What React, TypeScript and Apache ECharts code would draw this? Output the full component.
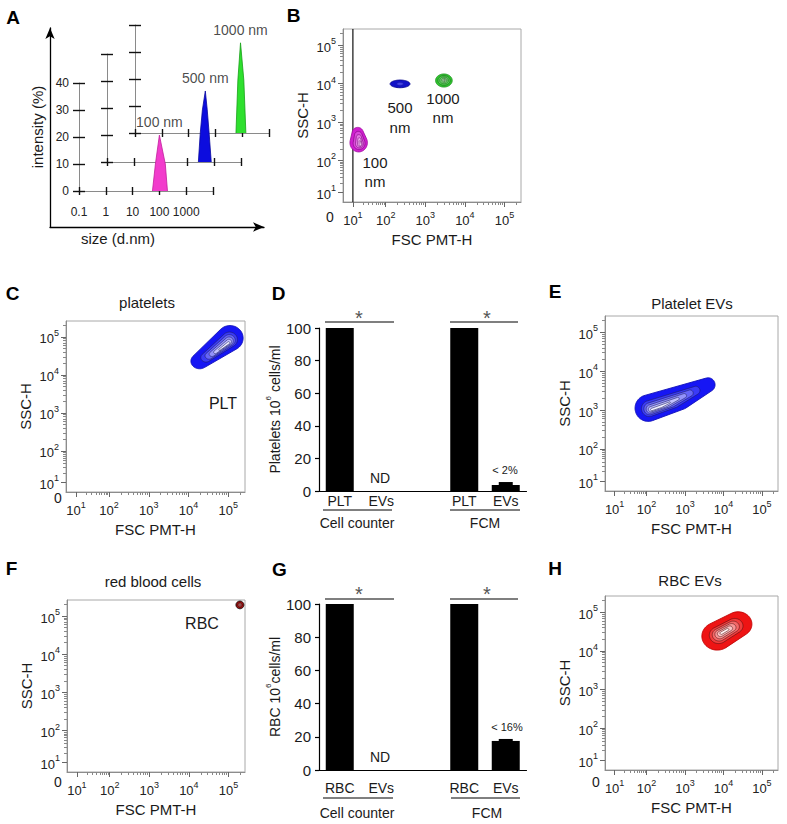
import React, { useEffect, useRef } from "react";
import * as echarts from "echarts";

const FONT = '"Liberation Sans", Arial, Helvetica, sans-serif';

// ---------------- Panel A : DLS size distributions ----------------
const A_INTENSITY_MAX = 40;
const A_SIZE_MIN = 0.1;
const A_SIZE_MAX = 10000;
const A_PEAK_100NM = [[55, 0], [71, 10], [100, 20.7], [166, 10], [200, 0]];
const A_PEAK_500NM = [[257, 0], [302, 10.7], [363, 19.3], [466, 26.3], [550, 19.3], [646, 10.7], [776, 0]];
const A_PEAK_1000NM = [[585, 0], [690, 19.6], [865, 33.4], [1150, 19.6], [1370, 0]];
const A_PEAK_NAMES = ["100 nm", "500 nm", "1000 nm"];

// ---------------- Flow cytometry (FSC / SSC, biexponential) ----------------
const FLOW_EXPONENTS = [1, 2, 3, 4, 5];
const FLOW_MAX = 262143;
// blob outlines: [FSC, SSC, radius FSC (decades), radius SSC (decades)]
const B_BEAD_100 = [[15, 290, 0.22, 0.24], [14, 525, 0.14, 0.14]];
const B_BEAD_100_CORE = [17.7, 240];
const B_BEAD_500 = [[230, 9800, 0.25, 0.1]];
const B_BEAD_500_CORE = [230, 9800];
const B_BEAD_1000 = [[2950, 12000, 0.21, 0.17]];
const B_BEAD_1000_CORE = [3100, 12500];
const B_GATE_FSC = 10;
const C_PLATELETS = [[1.9e4, 2.3e4, 0.22, 0.2], [1.1e5, 9.3e4, 0.33, 0.33]];
const C_PLATELETS_CORE = [9.8e4, 6.2e4];
const E_PLT_EVS = [[110, 1120, 0.34, 0.34], [740, 2040, 0.3, 0.3], [4000, 4470, 0.18, 0.18]];
const E_PLT_EVS_CORE = [150, 1000];
const F_RBC = [[1.95e5, 1.95e5, 0.1, 0.1]];
const F_RBC_CORE = [1.95e5, 1.95e5];
const H_RBC_EVS = [[6900, 2.4e4, 0.4, 0.36], [2.4e4, 4.9e4, 0.36, 0.32]];
const H_RBC_EVS_CORE = [9800, 3.1e4];

// contour level scales (outer -> inner)
const LEVELS_MAIN = [1, 0.6, 0.45, 0.32, 0.2, 0.09];
const LEVELS_BEAD_100 = [1, 0.68, 0.45, 0.26, 0.12];
const LEVELS_BEAD_500 = [1, 0.35];
const LEVELS_BEAD_1000 = [1, 0.74, 0.52, 0.34, 0.2, 0.09];
const LEVELS_RBC = [1, 0.55, 0.25];

// ---------------- Bar panels D and G ----------------
const D_CATEGORIES = ["PLT", "EVs", "", "PLT", "EVs"];
const D_VALUES = [100, null, null, 100, 3.7];
const D_ERRORS = [null, null, null, null, 1.8];
const G_CATEGORIES = ["RBC", "EVs", "", "RBC", "EVs"];
const G_VALUES = [100, null, null, 100, 17.5];
const G_ERRORS = [null, null, null, null, 1.2];
const BAR_MAX = 100;
const BAR_INTERVAL = 20;

// ---------------- helpers ----------------
function T(v: number): number {
  if (v >= 100) return Math.log10(v);
  if (v >= 10) return 2 - (2 - Math.log10(v)) * 0.83;
  return 0.92 + (0.25 * v) / 10;
}
const U_MIN = T(0);
const U_MAX = T(FLOW_MAX);
const MAJOR_U = FLOW_EXPONENTS.map((e) => T(Math.pow(10, e)));
const MINOR_U: number[] = [];
FLOW_EXPONENTS.forEach((e) => {
  for (let k = 2; k <= 9; k++) {
    const v = k * Math.pow(10, e);
    if (v <= FLOW_MAX) MINOR_U.push(T(v));
  }
});

function hex(c: string) {
  const h = c.replace("#", "");
  return [0, 2, 4].map((i) => parseInt(h.substr(i, 2), 16));
}
function mix(a: string, b: string, t: number) {
  const pa = hex(a), pb = hex(b);
  return "rgb(" + pa.map((c, i) => Math.round(c + (pb[i] - c) * t)).join(",") + ")";
}

const SUP_RICH = {
  b: { fontSize: 13, fontFamily: FONT, color: "#222", lineHeight: 17, verticalAlign: "bottom" },
  s: { fontSize: 9, fontFamily: FONT, color: "#222", lineHeight: 11, verticalAlign: "top" },
};
function supLabel(val: number) {
  const e = FLOW_EXPONENTS.find((x) => Math.abs(T(Math.pow(10, x)) - val) < 1e-6);
  return e ? `{b|10}{s|${e}}` : "";
}

function hullPoints(ellipses: number[][], core: number[], s: number) {
  const cu = T(core[0]), cv = T(core[1]);
  const f = Math.sqrt(s);
  const E = ellipses.map(([x, y, rx, ry]) => [cu + (T(x) - cu) * f, cv + (T(y) - cv) * f, rx * s, ry * s]);
  const pts: number[][] = [];
  const N = 96;
  for (let k = 0; k < N; k++) {
    const th = (2 * Math.PI * k) / N;
    const dx = Math.cos(th), dy = Math.sin(th);
    let best = -Infinity;
    let bp = [cu, cv];
    for (const [u, v, a, b] of E) {
      const n = Math.sqrt(a * a * dx * dx + b * b * dy * dy) || 1e-9;
      const h = u * dx + v * dy + n;
      if (h > best) {
        best = h;
        bp = [u + (a * a * dx) / n, v + (b * b * dy) / n];
      }
    }
    pts.push(bp);
  }
  return pts;
}

export default function App() {
  const ref = useRef<HTMLDivElement>(null);
  useEffect(() => {
    if (!ref.current) return;
    const chart = echarts.init(ref.current, null, { renderer: "svg" });
    const grids: any[] = [];
    const xAxes: any[] = [];
    const yAxes: any[] = [];
    const series: any[] = [];
    const graphics: any[] = [];

    const txt = (x: number, y: number, text: string, size: number, extra: any = {}) => {
      graphics.push({
        type: "text",
        x,
        y,
        silent: true,
        style: {
          text,
          fontSize: size,
          fontFamily: FONT,
          fill: "#1a1a1a",
          align: "center",
          verticalAlign: "middle",
          ...extra,
        },
      });
    };
    const line = (x1: number, y1: number, x2: number, y2: number, w = 1.2, color = "#000") => {
      graphics.push({ type: "line", silent: true, shape: { x1, y1, x2, y2 }, style: { stroke: color, lineWidth: w } });
    };

    // ---------- Panel A ----------
    {
      const g = grids.length;
      grids.push({ left: 50, top: 28, width: 214, height: 199, show: false });
      const arrowAxis = {
        type: "value",
        gridIndex: g,
        min: 0,
        max: 1,
        axisLine: { show: true, onZero: false, symbol: ["none", "arrow"], symbolSize: [7, 11], lineStyle: { color: "#000", width: 1.3 } },
        axisTick: { show: false },
        axisLabel: { show: false },
        splitLine: { show: false },
      };
      xAxes.push({ ...arrowAxis, position: "bottom" });
      yAxes.push({ ...arrowAxis, position: "left" });

      const layout = [
        { left: 79, bottom: 191 },
        { left: 107, bottom: 162 },
        { left: 135, bottom: 133 },
      ];
      const peaks = [A_PEAK_100NM, A_PEAK_500NM, A_PEAK_1000NM];
      const colors = ["#f23ccc", "#0c0cde", "#2ee02e"];
      const edges = ["#c0209c", "#0808a0", "#18a018"];
      layout.forEach((L, i) => {
        const gi = grids.length;
        grids.push({ left: L.left, top: L.bottom - 108, width: 134, height: 108, show: false });
        const xi = xAxes.length;
        const xBase = {
          type: "log",
          logBase: 10,
          gridIndex: gi,
          min: A_SIZE_MIN,
          max: A_SIZE_MAX,
          position: "bottom",
          splitLine: { show: false },
          minorTick: { show: false },
        };
        xAxes.push({
          ...xBase,
          axisLine: { show: true, onZero: false, lineStyle: { color: "#8a8a8a", width: 1 } },
          axisTick: { show: true, length: 4, lineStyle: { color: "#111", width: 1.4 } },
          axisLabel: {
            show: i === 0,
            margin: 15,
            fontSize: 12,
            fontFamily: FONT,
            color: "#222",
            formatter: (v: number) => (v >= 9999 ? "" : String(+Number(v).toPrecision(3))),
          },
        });
        xAxes.push({
          ...xBase,
          axisLine: { show: false },
          axisTick: { show: true, inside: true, length: 4, lineStyle: { color: "#111", width: 1.4 } },
          axisLabel: { show: false },
        });
        const yi = yAxes.length;
        const yBase = { type: "value", gridIndex: gi, min: 0, max: A_INTENSITY_MAX, interval: 10, position: "left", splitLine: { show: false } };
        yAxes.push({
          ...yBase,
          axisLine: { show: true, onZero: false, lineStyle: { color: "#8a8a8a", width: 1 } },
          axisTick: { show: true, length: 6, lineStyle: { color: "#111", width: 1.4 } },
          axisLabel: { show: i === 0, margin: 10, fontSize: 12, fontFamily: FONT, color: "#222" },
        });
        yAxes.push({
          ...yBase,
          axisLine: { show: false },
          axisTick: { show: true, inside: true, length: 6, lineStyle: { color: "#111", width: 1.4 } },
          axisLabel: { show: false },
        });
        const data = peaks[i];
        series.push({
          type: "line",
          xAxisIndex: xi,
          yAxisIndex: yi,
          data,
          symbol: "none",
          z: 3,
          lineStyle: { color: edges[i], width: 0.8 },
          areaStyle: { color: colors[i], opacity: 1 },
        });
        const tip = data.reduce((m, p) => (p[1] > m[1] ? p : m), data[0]);
        series.push({
          type: "scatter",
          xAxisIndex: xi,
          yAxisIndex: yi,
          data: [tip],
          symbolSize: 0,
          z: 4,
          label: {
            show: true,
            position: "top",
            distance: 6,
            formatter: A_PEAK_NAMES[i],
            fontSize: 14,
            fontFamily: FONT,
            color: "#1a1a1a",
          },
        });
      });
      txt(13, 17, "A", 19, { fontWeight: "bold", fill: "#000" });
      txt(118, 238, "size (d.nm)", 15);
      graphics.push({
        type: "text",
        x: 37,
        y: 127,
        rotation: Math.PI / 2,
        silent: true,
        style: { text: "intensity (%)", fontSize: 15, fontFamily: FONT, fill: "#1a1a1a", align: "center", verticalAlign: "middle" },
      });
    }

    // ---------- flow cytometry panels ----------
    const flowAxes = (l: number, t: number, r: number, b: number) => {
      const gi = grids.length;
      grids.push({ left: l, top: t, width: r - l, height: b - t, show: true, borderColor: "#a8a8a8", borderWidth: 1 });
      const common = { type: "value", gridIndex: gi, min: U_MIN, max: U_MAX, splitLine: { show: false } };
      const nameStyle = { fontSize: 15, fontFamily: FONT, color: "#1a1a1a" };
      const xi = xAxes.length;
      xAxes.push({
        ...common,
        position: "bottom",
        name: "FSC PMT-H",
        nameLocation: "middle",
        nameGap: 30,
        nameTextStyle: nameStyle,
        axisLine: { show: true, onZero: false, lineStyle: { color: "#8c8c8c" } },
        axisTick: { show: true, customValues: MAJOR_U, length: 5, lineStyle: { color: "#666" } },
        axisLabel: { show: true, customValues: MAJOR_U, formatter: supLabel, margin: 8, rich: SUP_RICH },
      });
      xAxes.push({
        ...common,
        position: "bottom",
        axisLine: { show: false },
        axisTick: { show: true, customValues: MINOR_U, length: 3, lineStyle: { color: "#888" } },
        axisLabel: { show: false },
      });
      const yi = yAxes.length;
      yAxes.push({
        ...common,
        position: "left",
        name: "SSC-H",
        nameLocation: "middle",
        nameGap: 33,
        nameTextStyle: nameStyle,
        axisLine: { show: true, onZero: false, lineStyle: { color: "#8c8c8c" } },
        axisTick: { show: true, customValues: MAJOR_U, length: 5, lineStyle: { color: "#666" } },
        axisLabel: { show: true, customValues: MAJOR_U, formatter: supLabel, margin: 7, rich: SUP_RICH },
      });
      yAxes.push({
        ...common,
        position: "left",
        axisLine: { show: false },
        axisTick: { show: true, customValues: MINOR_U, length: 3, lineStyle: { color: "#888" } },
        axisLabel: { show: false },
      });
      return { xi, yi };
    };

    const blob = (
      ax: { xi: number; yi: number },
      ellipses: number[][],
      core: number[],
      levels: number[],
      pal: { outer: string; inner: string; edge: string; line: string; gamma?: number }
    ) => {
      series.push({
        type: "custom",
        xAxisIndex: ax.xi,
        yAxisIndex: ax.yi,
        clip: true,
        z: 3,
        encode: { x: 0, y: 1 },
        data: levels.map((s, i) => [T(core[0]), T(core[1]), i, s]),
        renderItem: (params: any, api: any) => {
          const idx = api.value(2);
          const s = api.value(3);
          const pts = hullPoints(ellipses, core, s).map((p) => api.coord(p));
          const t = levels.length > 1 ? Math.pow(idx / (levels.length - 1), pal.gamma || 1) : 0;
          return {
            type: "polygon",
            shape: { points: pts },
            style: {
              fill: mix(pal.outer, pal.inner, t),
              stroke: idx === 0 ? pal.edge : pal.line,
              lineWidth: idx === 0 ? 0.9 : 0.55,
            },
          };
        },
      });
    };

    const PAL_BLUE = { outer: "#1616f4", inner: "#f0f0ff", edge: "#0e0eb8", line: "#1c1c5a", gamma: 1.1 };
    const PAL_RED = { outer: "#ee1414", inner: "#fff2f2", edge: "#c00000", line: "#4a0c0c", gamma: 1.05 };

    // Panel B
    {
      const ax = flowAxes(343, 29, 521, 202);
      series.push({
        type: "line",
        xAxisIndex: ax.xi,
        yAxisIndex: ax.yi,
        data: [[T(B_GATE_FSC), U_MIN], [T(B_GATE_FSC), U_MAX]],
        symbol: "none",
        z: 2,
        lineStyle: { color: "#111", width: 1.2 },
      });
      blob(ax, B_BEAD_100, B_BEAD_100_CORE, LEVELS_BEAD_100, { outer: "#d01ed0", inner: "#ffe0ff", edge: "#a010a0", line: "#700070", gamma: 1.1 });
      blob(ax, B_BEAD_500, B_BEAD_500_CORE, LEVELS_BEAD_500, { outer: "#1212c8", inner: "#4848e8", edge: "#0a0a90", line: "#2020a0", gamma: 1 });
      blob(ax, B_BEAD_1000, B_BEAD_1000_CORE, LEVELS_BEAD_1000, { outer: "#30c830", inner: "#f4fff4", edge: "#209020", line: "#145014", gamma: 1.1 });
      txt(293.5, 15, "B", 19, { fontWeight: "bold", fill: "#000" });
      txt(330, 217, "0", 14);
      txt(400, 107, "500", 15);
      txt(400, 127, "nm", 15);
      txt(443, 98, "1000", 15);
      txt(443, 117, "nm", 15);
      txt(375, 162, "100", 15);
      txt(375, 181, "nm", 15);
    }

    // Panel C
    {
      const ax = flowAxes(66, 321, 245, 492);
      blob(ax, C_PLATELETS, C_PLATELETS_CORE, LEVELS_MAIN, PAL_BLUE);
      txt(12.5, 293, "C", 19, { fontWeight: "bold", fill: "#000" });
      txt(147, 302, "platelets", 15);
      txt(58, 498, "0", 14);
      txt(223, 403, "PLT", 16);
    }

    // Panel E
    {
      const ax = flowAxes(605, 316, 778, 491);
      blob(ax, E_PLT_EVS, E_PLT_EVS_CORE, LEVELS_MAIN, PAL_BLUE);
      txt(555, 291, "E", 19, { fontWeight: "bold", fill: "#000" });
      txt(692, 303, "Platelet EVs", 15);
    }

    // Panel F
    {
      const ax = flowAxes(67, 600, 245, 772);
      blob(ax, F_RBC, F_RBC_CORE, LEVELS_RBC, { outer: "#a01010", inner: "#e8a0a0", edge: "#000", line: "#200000", gamma: 1 });
      txt(11.5, 568, "F", 19, { fontWeight: "bold", fill: "#000" });
      txt(153, 581, "red blood cells", 15);
      txt(58, 782, "0", 14);
      txt(202, 623, "RBC", 16);
    }

    // Panel H
    {
      const ax = flowAxes(605, 596, 778, 770);
      blob(ax, H_RBC_EVS, H_RBC_EVS_CORE, LEVELS_MAIN, PAL_RED);
      txt(555, 568, "H", 19, { fontWeight: "bold", fill: "#000" });
      txt(690, 580, "RBC EVs", 15);
      txt(596, 782, "0", 14);
    }

    // ---------- bar panels ----------
    const barPanel = (
      top: number,
      height: number,
      cats: string[],
      vals: (number | null)[],
      errs: (number | null)[],
      yName: string,
      labelMargin: number
    ) => {
      const gi = grids.length;
      grids.push({ left: 319, top, width: 207.5, height, show: false });
      const xi = xAxes.length;
      xAxes.push({
        type: "category",
        gridIndex: gi,
        data: cats,
        position: "bottom",
        axisLine: { show: true, lineStyle: { color: "#000", width: 1.2 } },
        axisTick: { show: false },
        axisLabel: { show: true, margin: labelMargin, fontSize: 14, fontFamily: FONT, color: "#1a1a1a", interval: 0 },
        splitLine: { show: false },
      });
      const yi = yAxes.length;
      yAxes.push({
        type: "value",
        gridIndex: gi,
        min: 0,
        max: BAR_MAX,
        interval: BAR_INTERVAL,
        position: "left",
        name: yName,
        nameLocation: "middle",
        nameGap: 37,
        nameTextStyle: {
          fontSize: 14,
          fontFamily: FONT,
          color: "#1a1a1a",
          rich: {
            t: { fontSize: 14, fontFamily: FONT, color: "#1a1a1a", lineHeight: 18, verticalAlign: "bottom" },
            s: { fontSize: 8, fontFamily: FONT, color: "#1a1a1a", lineHeight: 10, verticalAlign: "top" },
          },
        },
        axisLine: { show: true, lineStyle: { color: "#000", width: 1.2 } },
        axisTick: { show: true, length: 4, lineStyle: { color: "#000", width: 1.2 } },
        axisLabel: { show: true, margin: 8, fontSize: 15, fontFamily: FONT, color: "#1a1a1a" },
        splitLine: { show: false },
      });
      series.push({
        type: "bar",
        xAxisIndex: xi,
        yAxisIndex: yi,
        data: vals.map((v) => (v == null ? "-" : v)),
        barWidth: 28,
        itemStyle: { color: "#000" },
      });
      series.push({
        type: "custom",
        xAxisIndex: xi,
        yAxisIndex: yi,
        encode: { x: 0, y: 1 },
        data: vals.map((v, i) => (v != null && errs[i] != null ? [i, v, errs[i]] : null)).filter((d) => d),
        renderItem: (params: any, api: any) => {
          const i = api.value(0), v = api.value(1), e = api.value(2);
          const p0 = api.coord([i, v]);
          const p1 = api.coord([i, v + e]);
          return { type: "rect", shape: { x: p0[0] - 7, y: p1[1], width: 14, height: p0[1] - p1[1] + 1 }, style: { fill: "#000" } };
        },
      });
    };

    // Panel D
    barPanel(328, 163, D_CATEGORIES, D_VALUES, D_ERRORS, "{t|Platelets 10}{s|6}{t| cells/ml}", 3);
    txt(278.5, 293, "D", 19, { fontWeight: "bold", fill: "#000" });
    line(325, 322, 394, 322);
    line(450, 322, 518, 322);
    txt(359, 318, "*", 20, { fill: "#555" });
    txt(487, 318, "*", 20, { fill: "#555" });
    txt(380, 478, "ND", 14);
    txt(505, 470, "< 2%", 11);
    line(323, 510, 392, 510, 1);
    line(450, 510, 520, 510, 1);
    txt(357, 523, "Cell counter", 14);
    txt(485, 523, "FCM", 14);

    // Panel G
    barPanel(604, 166, G_CATEGORIES, G_VALUES, G_ERRORS, "{t|RBC 10}{s|6}{t|cells/ml}", 11);
    txt(279.5, 569, "G", 19, { fontWeight: "bold", fill: "#000" });
    line(325, 599, 394, 599);
    line(450, 599, 518, 599);
    txt(359, 594, "*", 20, { fill: "#555" });
    txt(487, 594, "*", 20, { fill: "#555" });
    txt(380, 757, "ND", 14);
    txt(507, 727, "< 16%", 11);
    line(323, 798, 393, 798, 1);
    line(451, 798, 520, 798, 1);
    txt(357, 813, "Cell counter", 14);
    txt(487, 813, "FCM", 14);

    chart.setOption({
      animation: false,
      backgroundColor: "#ffffff",
      textStyle: { fontFamily: FONT },
      grid: grids,
      xAxis: xAxes,
      yAxis: yAxes,
      series,
      graphic: { elements: graphics },
    });
    return () => chart.dispose();
  }, []);
  return (
    <div
      ref={ref}
      style={{ position: "fixed", left: 0, top: 0, width: 787, height: 824, background: "#fff" }}
    />
  );
}
